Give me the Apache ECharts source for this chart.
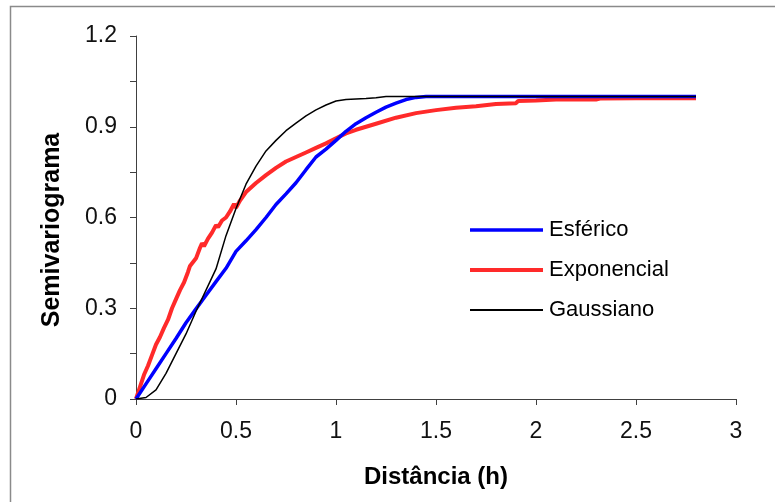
<!DOCTYPE html>
<html>
<head>
<meta charset="utf-8">
<script src="https://cdn.jsdelivr.net/npm/echarts@6/dist/echarts.min.js"></script>
<style>
  html, body { margin: 0; padding: 0; background: #ffffff; }
  #chart { width: 775px; height: 502px; }
</style>
</head>
<body>
<div id="chart"></div>
<script>
// Semivariogram models: distance h vs. semivariance
const seriesNames = ['Esférico', 'Exponencial', 'Gaussiano'];

const esferico = [
  [0, 0], [0.05, 0.05], [0.1, 0.1], [0.15, 0.15], [0.2, 0.2], [0.25, 0.252],
  [0.3, 0.298], [0.35, 0.343], [0.4, 0.388], [0.45, 0.432], [0.5, 0.488],
  [0.55, 0.523], [0.6, 0.56], [0.65, 0.6], [0.7, 0.643], [0.75, 0.678],
  [0.8, 0.715], [0.85, 0.758], [0.9, 0.8], [0.95, 0.826], [1.0, 0.855],
  [1.05, 0.885], [1.1, 0.91], [1.15, 0.93], [1.2, 0.948], [1.25, 0.965],
  [1.3, 0.978], [1.35, 0.99], [1.4, 0.997], [1.45, 1.0], [2.0, 1.0], [2.8, 1.0]
];

const exponencial = [
  [0, 0], [0.02, 0.04], [0.04, 0.08], [0.06, 0.11], [0.08, 0.145], [0.1, 0.18],
  [0.12, 0.205], [0.14, 0.235], [0.16, 0.262], [0.18, 0.3], [0.2, 0.33],
  [0.22, 0.36], [0.24, 0.385], [0.26, 0.42], [0.27, 0.44], [0.28, 0.434],
  [0.3, 0.465], [0.32, 0.5], [0.33, 0.515], [0.34, 0.505], [0.36, 0.53],
  [0.38, 0.55], [0.4, 0.575], [0.41, 0.568], [0.43, 0.59], [0.45, 0.6],
  [0.47, 0.62], [0.49, 0.645], [0.5, 0.632], [0.52, 0.656], [0.55, 0.684],
  [0.6, 0.714], [0.65, 0.74], [0.7, 0.764], [0.75, 0.785], [0.8, 0.8],
  [0.85, 0.815], [0.9, 0.83], [0.95, 0.845], [1.0, 0.862], [1.05, 0.878],
  [1.1, 0.89], [1.15, 0.9], [1.2, 0.91], [1.3, 0.93], [1.4, 0.945],
  [1.5, 0.955], [1.6, 0.963], [1.7, 0.968], [1.8, 0.975], [1.9, 0.978],
  [1.91, 0.985], [2.0, 0.987], [2.1, 0.99], [2.3, 0.99], [2.32, 0.993],
  [2.5, 0.994], [2.8, 0.994]
];

const gaussiano = [
  [0, 0], [0.05, 0.005], [0.1, 0.03], [0.15, 0.085], [0.2, 0.15], [0.25, 0.215],
  [0.3, 0.29], [0.35, 0.36], [0.4, 0.43], [0.45, 0.54], [0.5, 0.63],
  [0.55, 0.71], [0.6, 0.77], [0.65, 0.82], [0.7, 0.855], [0.75, 0.887],
  [0.8, 0.912], [0.85, 0.936], [0.9, 0.956], [0.95, 0.972], [1.0, 0.985],
  [1.05, 0.99], [1.1, 0.992], [1.15, 0.993], [1.2, 0.996], [1.25, 1.0],
  [2.0, 1.0], [2.8, 1.0]
];

const xTicks = [0, 0.5, 1, 1.5, 2, 2.5, 3];
const yLabels = ['0', '0.3', '0.6', '0.9', '1.2'];

const FONT = '"Liberation Sans", Arial, sans-serif';
const BLUE = '#0000ff', RED = '#ff2a2a', BLACK = '#000000';
const chart = echarts.init(document.getElementById('chart'), null, { renderer: 'canvas' });

chart.setOption({
  backgroundColor: '#ffffff',
  animation: false,
  graphic: [{
    type: 'rect',
    shape: { x: 10.5, y: 6.5, width: 900, height: 700 },
    style: { fill: 'none', stroke: '#8a8a8a', lineWidth: 1.5 },
    silent: true
  }],
  grid: { left: 136, right: 39, top: 36, bottom: 103, containLabel: false },
  legend: {
    orient: 'vertical',
    left: 468,
    top: 219,
    padding: 0,
    itemWidth: 73,
    itemHeight: 14,
    itemGap: 18,
    itemStyle: { opacity: 0 },
    textStyle: { fontFamily: FONT, fontSize: 22, color: '#000', padding: [0, 0, 0, 1] },
    data: [
      { name: seriesNames[0], lineStyle: { color: BLUE, width: 3.5 } },
      { name: seriesNames[1], lineStyle: { color: RED, width: 4 } },
      { name: seriesNames[2], lineStyle: { color: BLACK, width: 2 } }
    ]
  },
  xAxis: {
    type: 'value',
    min: xTicks[0],
    max: xTicks[xTicks.length - 1],
    interval: 0.5,
    name: 'Distância (h)',
    nameLocation: 'middle',
    nameGap: 66,
    nameTextStyle: { fontFamily: FONT, fontSize: 24, fontWeight: 'bold', color: '#000' },
    axisLine: { lineStyle: { color: '#404040', width: 1 } },
    axisTick: { length: 6, lineStyle: { color: '#404040' } },
    axisLabel: { fontFamily: FONT, fontSize: 23, color: '#111', margin: 21 },
    splitLine: { show: false }
  },
  yAxis: {
    type: 'value',
    min: 0,
    max: 1.2,
    interval: 0.15,
    name: 'Semivariograma',
    nameLocation: 'middle',
    nameGap: 71,
    nameTextStyle: { fontFamily: FONT, fontSize: 25, fontWeight: 'bold', color: '#000', padding: [0, 25, 0, 0] },
    axisLine: { show: true, lineStyle: { color: '#404040', width: 1 } },
    axisTick: { show: true, length: 6, lineStyle: { color: '#404040' } },
    axisLabel: {
      fontFamily: FONT, fontSize: 23, color: '#111', margin: 19,
      formatter: function (v) {
        const k = Math.round(v / 0.3 * 1000) / 1000;
        return Number.isInteger(k) ? yLabels[k] : '';
      }
    },
    splitLine: { show: false }
  },
  series: [
    {
      name: seriesNames[0], type: 'line', data: esferico, symbol: 'none', z: 3,
      lineStyle: { color: BLUE, width: 3.5 }, itemStyle: { color: BLUE }
    },
    {
      name: seriesNames[1], type: 'line', data: exponencial, symbol: 'none', z: 2,
      lineStyle: { color: RED, width: 4 }, itemStyle: { color: RED }
    },
    {
      name: seriesNames[2], type: 'line', data: gaussiano, symbol: 'none', z: 4,
      lineStyle: { color: BLACK, width: 1.5 }, itemStyle: { color: BLACK }
    }
  ]
});
</script>
</body>
</html>
